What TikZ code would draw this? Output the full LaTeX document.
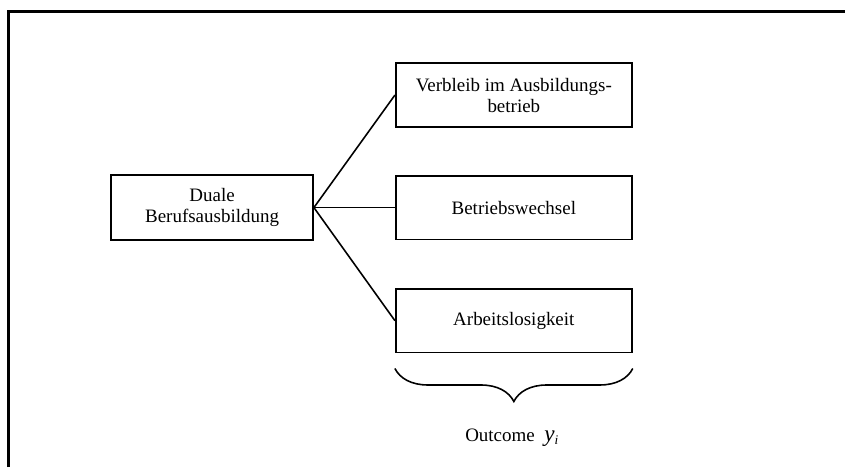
\documentclass[tikz,border=0pt]{standalone}
\usepackage{fontspec}
\setmainfont{Liberation Serif}
\usepackage{tikz}
\usetikzlibrary{decorations.pathreplacing}
\tikzset{
    outbox/.style={rectangle, draw, line width=1.7pt, minimum width=7.87cm, minimum height=2.13cm, align=center, font=\fontsize{18}{20}\selectfont},
}

\begin{document}
\begin{tikzpicture}[line width=1.5pt]
    \useasboundingbox (0,0) rectangle (28.17,15.57);
    % Frame (top and left only)
    \draw[line width=2.8pt] (0.27,0) -- (0.27,15.2) -- (28.17,15.2);

    % Training
    \node[outbox, minimum width=6.73cm, minimum height=2.17cm] (ausbildung) at (7.07,8.65) {Duale\\Berufsausbildung};

    % Outcomes
    \node[outbox] (verbleib) at (17.13,12.4) {Verbleib im Ausbildungs-\\betrieb};
    \node[outbox] (wechsel) at (17.13,8.65) {Betriebswechsel};
    \node[outbox] (arbeitslos) at (17.13,4.88) {Arbeitslosigkeit};

    % Connectors
    \foreach \o in {verbleib, wechsel, arbeitslos} {
        \draw (ausbildung.east) -- (\o.west);
    }

    % Brace
    \coordinate (bl) at ([yshift=-0.5cm]arbeitslos.south west);
    \coordinate (br) at ([yshift=-0.5cm]arbeitslos.south east);
    \draw[decorate, decoration={brace, mirror, amplitude=1.1cm}] (bl) -- (br);
    \node[font=\fontsize{18}{20}\selectfont] (outcome) at (17.07,0.97) {Outcome\ \ {\fontsize{22}{20}\selectfont\textit{y}}\textsubscript{\textit{i}}};
\end{tikzpicture}
\end{document}
